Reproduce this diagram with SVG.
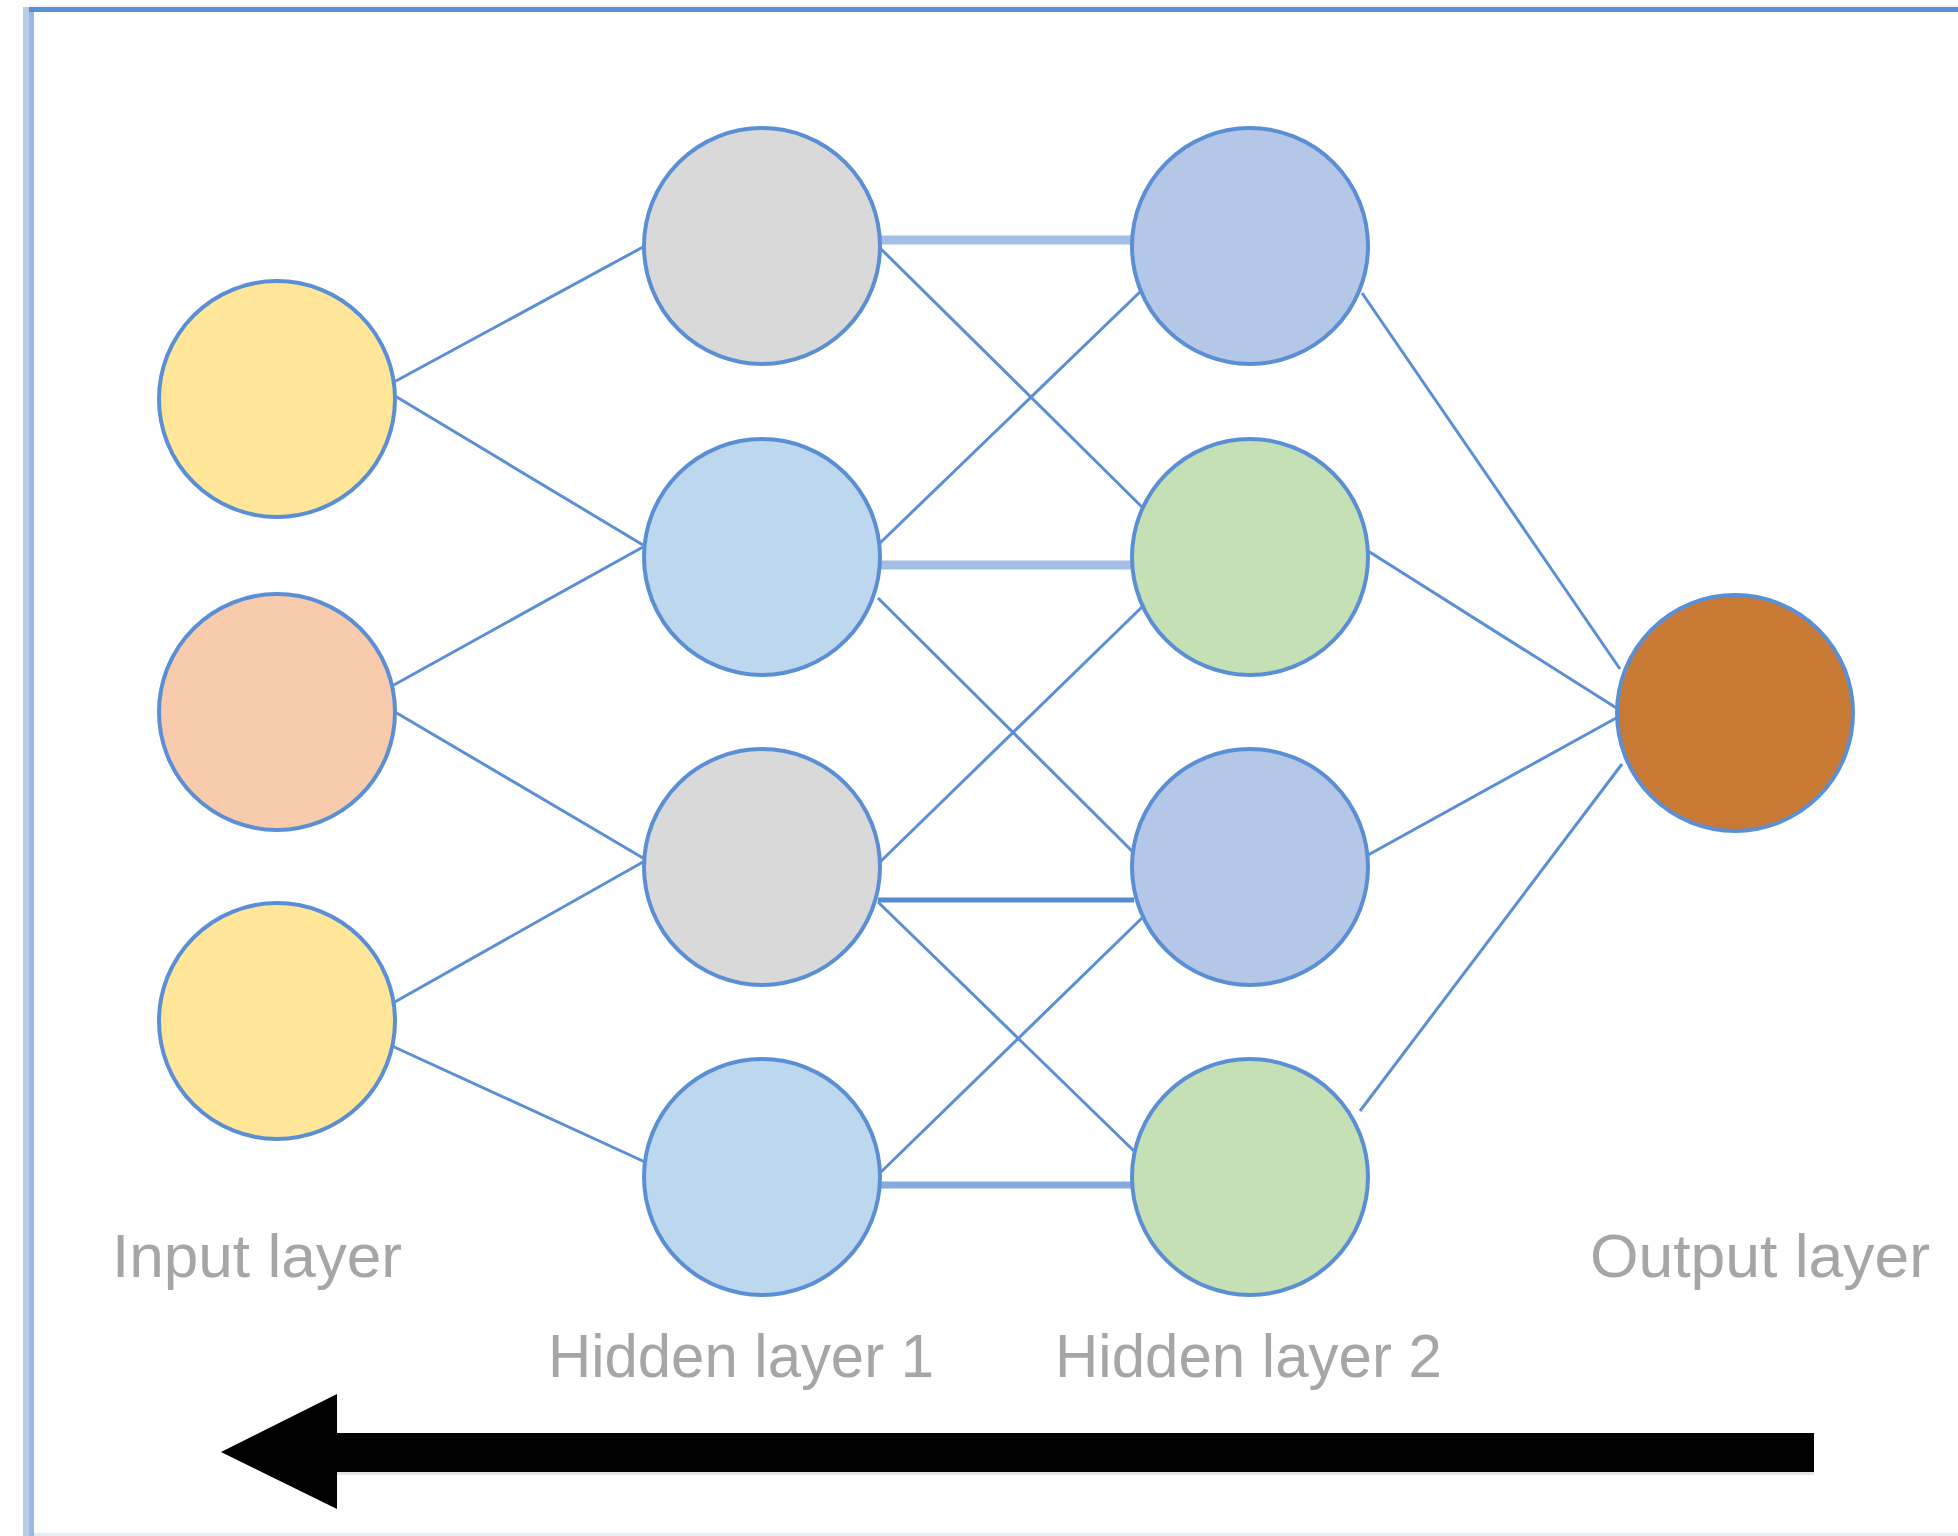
<svg xmlns="http://www.w3.org/2000/svg" width="1958" height="1536" viewBox="0 0 1958 1536">
<style>
.node{stroke:#5b8fd5;stroke-width:4}
.edge{stroke:#5b8fd5;stroke-width:3;fill:none}
.lbl{font-family:"Liberation Sans",Arial,sans-serif;font-size:61px;fill:#a6a6a6}
</style>
<rect x="0" y="0" width="1958" height="1536" fill="#ffffff"/>
<g id="frame">
<rect x="29" y="5" width="1929" height="2" fill="#eef3fa"/>
<rect x="29" y="7" width="1929" height="5" fill="#5b8fd5"/>
<rect x="23" y="7" width="6" height="1529" fill="#b7cdea"/>
<rect x="29" y="12" width="5" height="1524" fill="#9bb8e2"/>
<rect x="34" y="1533" width="1924" height="3" fill="#e3edf7"/>
</g>
<g id="connectors">
<line class="edge" x1="394" y1="382" x2="643" y2="247"/>
<line class="edge" x1="395" y1="396" x2="643" y2="545"/>
<line class="edge" x1="392" y1="686" x2="643" y2="547"/>
<line class="edge" x1="395" y1="712" x2="643" y2="858"/>
<line class="edge" x1="393" y1="1003" x2="643" y2="862"/>
<line class="edge" x1="392" y1="1046" x2="645" y2="1162"/>
<line x1="880" y1="240" x2="1132" y2="240" stroke="#a3bfe5" stroke-width="9"/>
<line class="edge" x1="880" y1="248" x2="1142" y2="507"/>
<line class="edge" x1="880" y1="543" x2="1142" y2="290"/>
<line x1="880" y1="565" x2="1132" y2="565" stroke="#a3bfe5" stroke-width="9"/>
<line class="edge" x1="878" y1="598" x2="1134" y2="853"/>
<line class="edge" x1="880" y1="862" x2="1142" y2="607"/>
<line x1="878" y1="900" x2="1134" y2="900" stroke="#5589d0" stroke-width="5"/>
<line class="edge" x1="878" y1="902" x2="1134" y2="1151"/>
<line class="edge" x1="881" y1="1172" x2="1142" y2="918"/>
<line x1="881" y1="1185" x2="1132" y2="1185" stroke="#86abde" stroke-width="7"/>
<line class="edge" x1="1362" y1="293" x2="1620" y2="669"/>
<line class="edge" x1="1368" y1="551" x2="1618" y2="709"/>
<line class="edge" x1="1368" y1="855" x2="1618" y2="717"/>
<line class="edge" x1="1360" y1="1111" x2="1622" y2="764"/>
</g>
<g id="input-1"><circle class="node" cx="277" cy="399" r="118" fill="#ffe699"/></g>
<g id="input-2"><circle class="node" cx="277" cy="712" r="118" fill="#f8cbad"/></g>
<g id="input-3"><circle class="node" cx="277" cy="1021" r="118" fill="#ffe699"/></g>
<g id="hidden1-1"><circle class="node" cx="762" cy="246" r="118" fill="#d9d9d9"/></g>
<g id="hidden1-2"><circle class="node" cx="762" cy="557" r="118" fill="#bdd7ee"/></g>
<g id="hidden1-3"><circle class="node" cx="762" cy="867" r="118" fill="#d9d9d9"/></g>
<g id="hidden1-4"><circle class="node" cx="762" cy="1177" r="118" fill="#bdd7ee"/></g>
<g id="hidden2-1"><circle class="node" cx="1250" cy="246" r="118" fill="#b4c7e7"/></g>
<g id="hidden2-2"><circle class="node" cx="1250" cy="557" r="118" fill="#c5e0b4"/></g>
<g id="hidden2-3"><circle class="node" cx="1250" cy="867" r="118" fill="#b4c7e7"/></g>
<g id="hidden2-4"><circle class="node" cx="1250" cy="1177" r="118" fill="#c5e0b4"/></g>
<g id="output"><circle class="node" cx="1735" cy="713" r="118" fill="#c87933"/></g>
<g id="labels">
<text class="lbl" x="112" y="1277" textLength="290" lengthAdjust="spacingAndGlyphs">Input layer</text>
<text class="lbl" x="548" y="1377" textLength="386" lengthAdjust="spacingAndGlyphs">Hidden layer 1</text>
<text class="lbl" x="1055" y="1377" textLength="387" lengthAdjust="spacingAndGlyphs">Hidden layer 2</text>
<text class="lbl" x="1590" y="1277" textLength="340" lengthAdjust="spacingAndGlyphs">Output layer</text>
</g>
<g id="arrow">
<rect x="334" y="1433" width="1480" height="39" fill="#000000"/>
<rect x="334" y="1472" width="1480" height="3" fill="#e4e4e4"/>
<polygon points="221,1452 337,1394 337,1509" fill="#000000"/>
</g>
</svg>
